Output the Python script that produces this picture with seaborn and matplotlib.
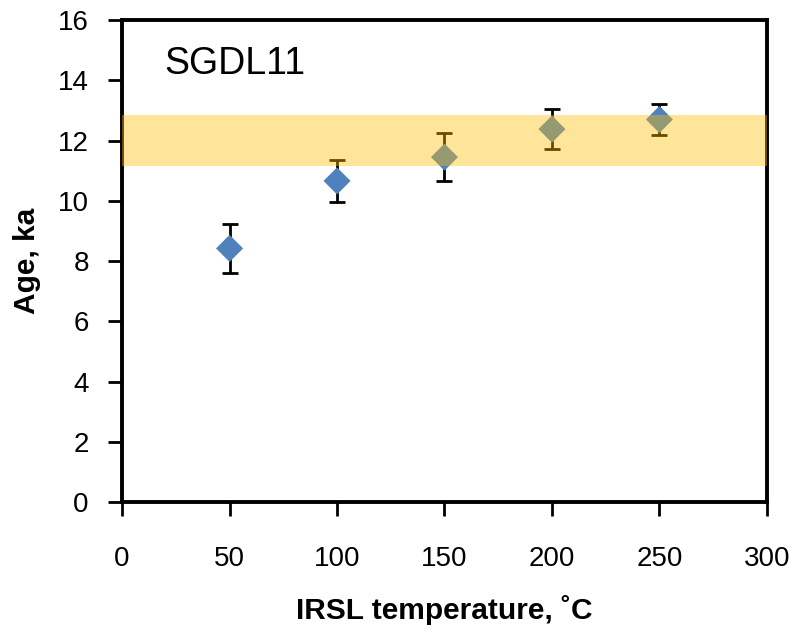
import matplotlib
matplotlib.use("Agg")
import matplotlib.pyplot as plt
from matplotlib import font_manager
import seaborn as sns
import pandas as pd

temps = [50, 100, 150, 200, 250]
ages = [8.42, 10.66, 11.45, 12.38, 12.70]
errs = [0.82, 0.70, 0.80, 0.66, 0.53]
band_low, band_high = 11.17, 12.86
sample = "SGDL11"

sns.set_theme(style="white")
plt.rcParams['font.family'] = ['Liberation Sans', 'DejaVu Sans']
plt.rcParams['text.color'] = 'black'
plt.rcParams['axes.labelcolor'] = 'black'

names = {f.name for f in font_manager.fontManager.ttflist}
xfont = 'Liberation Sans Narrow' if 'Liberation Sans Narrow' in names else 'Liberation Sans'

fig = plt.figure(figsize=(7.98, 6.35), dpi=100)
ax = fig.add_axes([0.153, 0.2094, 0.808, 0.759])

df = pd.DataFrame({"t": temps, "age": ages})
ax.errorbar(temps, ages, yerr=errs, fmt='none', ecolor='black', elinewidth=2,
            capsize=6, capthick=2, zorder=2)
sns.scatterplot(data=df, x="t", y="age", marker='D', s=190, color='#4F81BD',
                edgecolor='none', ax=ax, zorder=3)
ax.axhspan(band_low, band_high, color='#FFC000', alpha=0.4, lw=0, zorder=4)

ax.set_xlim(0, 300)
ax.set_ylim(0, 16)
ax.set_xticks(range(0, 301, 50))
ax.set_yticks(range(0, 17, 2))
ax.tick_params(axis='both', which='major', bottom=True, left=True, direction='out',
               length=10, width=2, labelsize=20, color='black', labelcolor='black')
ax.tick_params(axis='y', pad=14)
ax.tick_params(axis='x', pad=22)
for lab in ax.get_xticklabels():
    lab.set_fontfamily([xfont, 'DejaVu Sans'])
    lab.set_fontsize(22 if xfont != 'Liberation Sans' else 20)
for s in ax.spines.values():
    s.set_linewidth(2.8)
    s.set_color('black')

ax.set_xlabel("IRSL temperature, ˚C", fontsize=21.5, fontweight='bold', labelpad=16)
ax.set_ylabel("Age, ka", fontsize=21.5, fontweight='bold', labelpad=12)
ax.text(0.066, 0.947, sample, transform=ax.transAxes, fontsize=27, va='top', ha='left')

fig.savefig("out.png", dpi=100)
